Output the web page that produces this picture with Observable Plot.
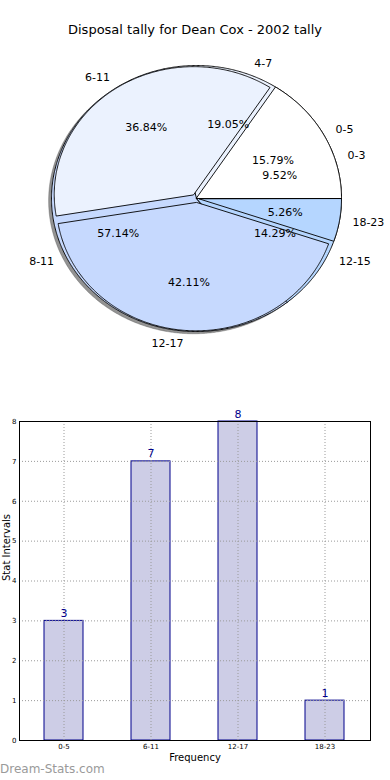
<!DOCTYPE html>
<html><head><meta charset="utf-8">
<script src="https://cdn.jsdelivr.net/npm/d3@7"></script>
<script src="https://cdn.jsdelivr.net/npm/@observablehq/plot@0.6"></script>
<style>
body{margin:0;background:#fff;}
#wrap{position:relative;width:390px;height:780px;overflow:hidden;font-family:"DejaVu Sans",sans-serif;background:#fff;}
#title{position:absolute;left:0;top:22px;width:390px;text-align:center;font-size:13px;line-height:16px;color:#000;}
#pie{position:absolute;left:0;top:0;}
#bar{position:absolute;left:0;top:400px;}
#wm{position:absolute;left:0;top:762px;font-size:12px;line-height:14px;color:#9a9a9a;}
</style></head><body>
<div id="wrap">
<div id="pie"></div>
<div id="title"></div>
<div id="bar"></div>
<div id="wm">Dream-Stats.com</div>
</div>
<script>
// ---- data ----
const chartTitle = "Disposal tally for Dean Cox - 2002 tally";
const tallyCategories = ["0-5", "6-11", "12-17", "18-23"];
const tallyValues = [3, 7, 8, 1];
const splitCategories = ["0-3", "4-7", "8-11", "12-15"];
const splitValues = [2, 4, 12, 3];
const yTicks = [0, 1, 2, 3, 4, 5, 6, 7, 8];
const xAxisLabel = "Frequency";
const yAxisLabel = "Stat Intervals";

// ---- styles ----
const sliceColors = ["#ffffff", "#ebf2fe", "#c6d9fe", "#b5d6ff"];
const topExplode = [0, 0.035, 0.03, 0.02];
const topRadius = [1, 0.962, 0.965, 0.98];
const baseExplode = [0, 0, 0, 0];
const baseRadius = [1, 1, 1, 1];

document.getElementById("title").textContent = chartTitle;

function wedges(cats, vals, explode, radius, layer) {
  const total = d3.sum(vals);
  let a = 0;
  const pts = [], info = [];
  cats.forEach((c, i) => {
    const a0 = a, a1 = a + vals[i] / total * 2 * Math.PI;
    a = a1;
    const mid = (a0 + a1) / 2;
    const ox = explode[i] * Math.cos(mid), oy = explode[i] * Math.sin(mid);
    const r = radius[i];
    const key = layer + i;
    pts.push({key, x: ox, y: oy, fill: sliceColors[i]});
    const n = Math.max(2, Math.ceil((a1 - a0) / (Math.PI / 360)));
    for (let k = 0; k <= n; k++) {
      const t = a0 + (a1 - a0) * k / n;
      pts.push({key, x: ox + r * Math.cos(t), y: oy + r * Math.sin(t), fill: sliceColors[i]});
    }
    info.push({
      cat: c,
      pct: (vals[i] / total * 100).toFixed(2) + "%",
      px: ox + 0.6 * Math.cos(mid), py: oy + 0.6 * Math.sin(mid),
      lx: 1.09 * Math.cos(mid), ly: 1.09 * Math.sin(mid)
    });
  });
  return {pts, info};
}

const basePie = wedges(splitCategories, splitValues, baseExplode, baseRadius, "b");
const topPie = wedges(tallyCategories, tallyValues, topExplode, topRadius, "t");
const shadowPts = basePie.pts.map(d => ({...d, x: d.x - 0.02, y: d.y - 0.017}));
const allInfo = basePie.info.concat(topPie.info);

const pieChart = Plot.plot({
  width: 390, height: 380, margin: 0,
  x: {domain: [-196 / 145, 194 / 145], axis: null},
  y: {domain: [-(380 - 198) / 133, 198 / 133], axis: null},
  color: {type: "identity"},
  style: {fontFamily: "DejaVu Sans", fontSize: "11px", background: "transparent", color: "#000"},
  marks: [
    Plot.line(shadowPts, {x: "x", y: "y", z: "key", fill: "#3a3a3a", fillOpacity: 0.55, stroke: "#3a3a3a", strokeOpacity: 0.3, strokeWidth: 1, curve: "linear-closed"}),
    Plot.line(basePie.pts, {x: "x", y: "y", z: "key", fill: "fill", stroke: "#000", strokeWidth: 0.9, curve: "linear-closed"}),
    Plot.line(topPie.pts, {x: "x", y: "y", z: "key", fill: "fill", stroke: "#000", strokeWidth: 0.9, curve: "linear-closed"}),
    Plot.text(allInfo, {x: "px", y: "py", text: "pct", fill: "#000", fontSize: 11}),
    Plot.text(allInfo.filter(d => d.lx >= 0), {x: "lx", y: "ly", text: "cat", textAnchor: "start", fill: "#000", fontSize: 11}),
    Plot.text(allInfo.filter(d => d.lx < 0), {x: "lx", y: "ly", text: "cat", textAnchor: "end", fill: "#000", fontSize: 11})
  ]
});
document.getElementById("pie").append(pieChart);

const barData = tallyCategories.map((c, i) => ({cat: c, value: tallyValues[i]}));

const barChart = Plot.plot({
  width: 390, height: 380,
  marginLeft: 19, marginRight: 20, marginTop: 21, marginBottom: 40,
  x: {domain: tallyCategories, paddingInner: 0.55, paddingOuter: 0.275, tickSize: 0, tickPadding: 4, label: null},
  y: {domain: [0, 8], ticks: yTicks, tickSize: 0, tickPadding: 3, label: null, tickFormat: d3.format("d")},
  style: {fontFamily: "DejaVu Sans", fontSize: "7px", background: "transparent", color: "#000"},
  marks: [
    Plot.barY(barData, {x: "cat", y: "value", fill: "#cdcde6", stroke: "#00008b", strokeWidth: 1}),
    Plot.ruleY(yTicks, {y: d => d, stroke: "#9a9a9a", strokeWidth: 1, strokeDasharray: "1,2"}),
    Plot.ruleX(tallyCategories, {x: d => d, stroke: "#9a9a9a", strokeWidth: 1, strokeDasharray: "1,2"}),
    Plot.text(barData, {x: "cat", y: "value", text: d => String(d.value), lineAnchor: "bottom", dy: -4, fill: "#00008b", fontSize: 11}),
    Plot.frame({stroke: "#000", strokeWidth: 1}),
    Plot.text([xAxisLabel], {text: d => d, frameAnchor: "bottom", dy: 20, fontSize: 10, fill: "#000"}),
    Plot.text([yAxisLabel], {text: d => d, frameAnchor: "left", dx: -13, rotate: -90, fontSize: 10, fill: "#000"})
  ]
});
document.getElementById("bar").append(barChart);
</script>
</body></html>
